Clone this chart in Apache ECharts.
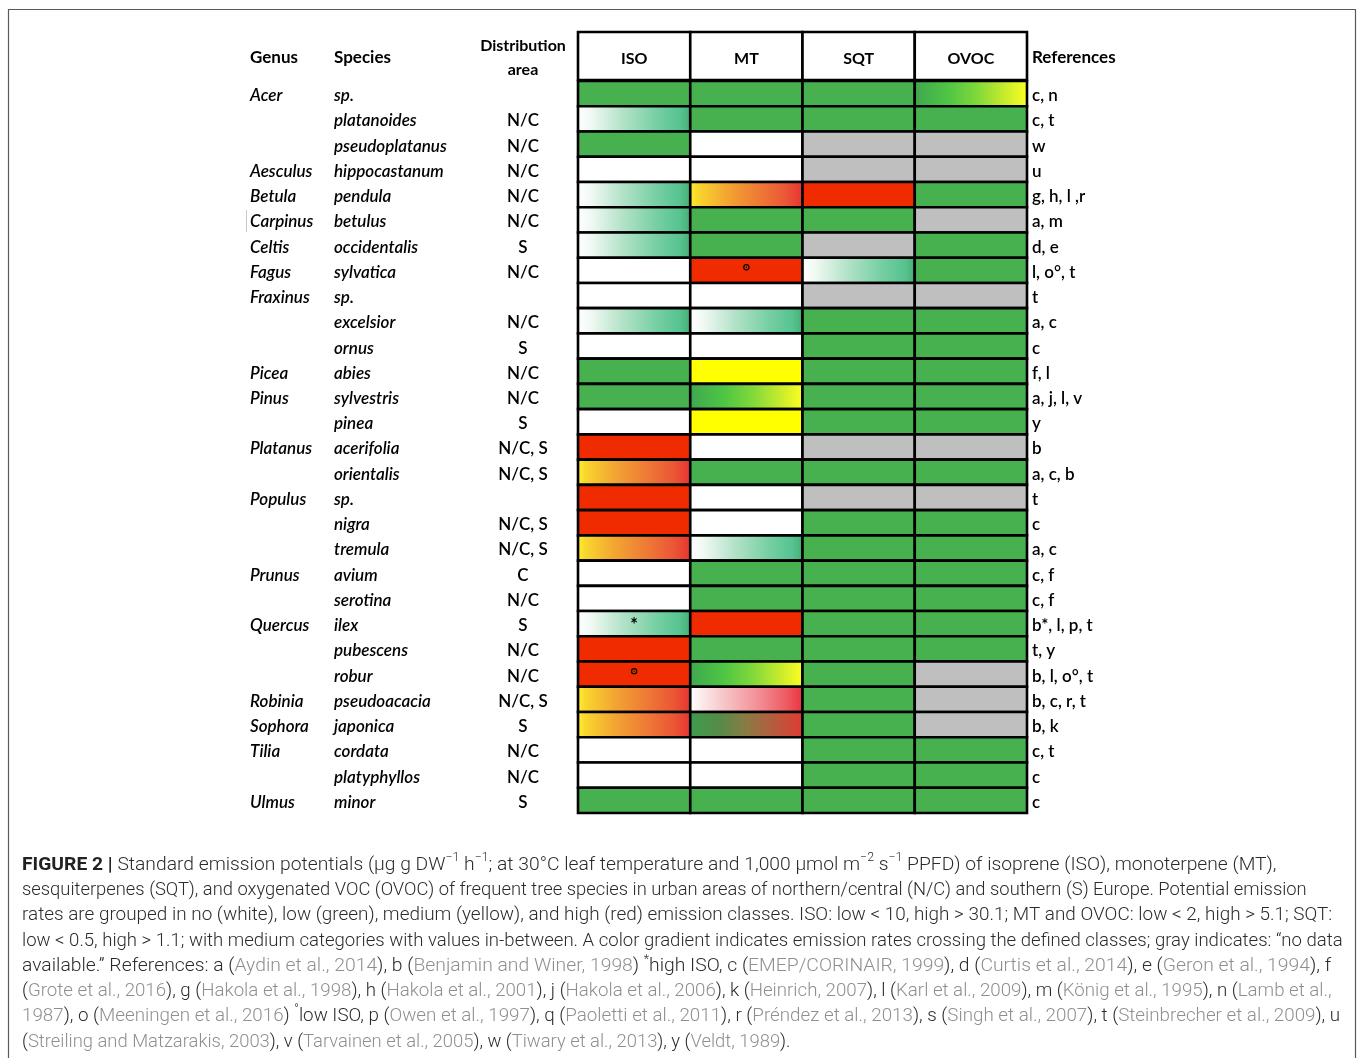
<!DOCTYPE html>
<html><head><meta charset="utf-8">
<script src="https://cdn.jsdelivr.net/npm/echarts@6/dist/echarts.min.js"></script>
<style>html,body{margin:0;padding:0;background:#fff}#c{width:1357px;height:1058px}</style>
</head><body><div id="c"></div><script>
const columns = ['ISO', 'MT', 'SQT', 'OVOC'];
const genus = ['Acer','','','Aesculus','Betula','Carpinus','Celtis','Fagus','Fraxinus','','','Picea','Pinus','','Platanus','','Populus','','','Prunus','','Quercus','','','Robinia','Sophora','Tilia','','Ulmus'];
const species = ['sp.','platanoides','pseudoplatanus','hippocastanum','pendula','betulus','occidentalis','sylvatica','sp.','excelsior','ornus','abies','sylvestris','pinea','acerifolia','orientalis','sp.','nigra','tremula','avium','serotina','ilex','pubescens','robur','pseudoacacia','japonica','cordata','platyphyllos','minor'];
const distribution = ['','N/C','N/C','N/C','N/C','N/C','S','N/C','','N/C','S','N/C','N/C','S','N/C, S','N/C, S','','N/C, S','N/C, S','C','N/C','S','N/C','N/C','N/C, S','S','N/C','N/C','S'];
const references = ['c, n','c, t','w','u','g, h, l ,r','a, m','d, e','l, o°, t','t','a, c','c','f, l','a, j, l, v','y','b','a, c, b','t','c','a, c','c, f','c, f','b*, l, p, t','t, y','b, l, o°, t','b, c, r, t','b, k','c, t','c','c'];
// emission class codes: W none, G low, Y medium, R high, X no data; two letters = gradient; ° / * = footnote marks
const iso  = ['G','WG','G','W','WG','WG','WG','W','W','WG','W','G','G','W','R','YR','R','R','YR','W','W','WG*','R','R°','YR','YR','W','W','G'];
const mt   = ['G','G','W','W','YR','G','G','R°','W','WG','W','Y','GY','Y','W','G','W','W','WG','G','G','R','G','GY','WR','GR','W','W','G'];
const sqt  = ['G','G','X','X','R','G','X','WG','X','G','G','G','G','G','X','G','X','G','G','G','G','G','G','G','G','G','G','G','G'];
const ovoc = ['GY','G','X','X','G','X','G','G','X','G','G','G','G','G','X','G','X','G','G','G','G','G','G','X','X','X','G','G','G'];
const headerLabels = { genus: 'Genus', species: 'Species', dist1: 'Distribution', dist2: 'area', refs: 'References' };

const solid = { W: '#ffffff', G: '#47b04f', Y: '#ffff00', R: '#f02b00', X: '#bfbfbf' };
const gradStops = {
  WG: [[0,'#ffffff'],[0.12,'#f1f9f4'],[0.4,'#b3e2c8'],[0.7,'#76cfa3'],[0.9,'#56c391'],[0.96,'#4db67c'],[1,'#42a560']],
  GY: [[0,'#40a64f'],[0.3,'#4ec545'],[0.55,'#7fd83a'],[0.8,'#c8ec2c'],[1,'#ffff22']],
  YR: [[0,'#fff22a'],[0.08,'#f9d52e'],[0.35,'#f2a232'],[0.6,'#ef7b36'],[0.85,'#eb5535'],[1,'#e63232']],
  WR: [[0,'#ffffff'],[0.3,'#f7c6c9'],[0.6,'#f29097'],[0.85,'#ee5a62'],[1,'#e8323e']],
  GR: [[0,'#3e9c4e'],[0.25,'#538c48'],[0.5,'#8a7a45'],[0.75,'#b85a3c'],[1,'#e23a32']]
};
function fillFor(code) {
  if (gradStops[code]) {
    return new echarts.graphic.LinearGradient(0, 0, 1, 0, gradStops[code].map(s => ({ offset: s[0], color: s[1] })));
  }
  return solid[code];
}

const cellCodes = [iso, mt, sqt, ovoc];
const cellData = [];
cellCodes.forEach((arr, c) => arr.forEach((code, r) => cellData.push([c, r])));
const cellCode = (i) => { const d = cellData[i]; return cellCodes[d[0]][d[1]]; };
const rowIdx = species.map((_, i) => String(i));

const dataFont = 'Lato, "Open Sans", sans-serif';
const capFont = 'Roboto, "Liberation Sans", sans-serif';
const capSize = 18.7;

const chart = echarts.init(document.getElementById('c'));

function renderCell(params, api) {
  const c = api.value(0), r = api.value(1);
  const p = api.coord([c, r]);
  const s = api.size([1, 1]);
  let code = cellCode(params.dataIndex);
  let mark = '';
  const last = code.slice(-1);
  if (last === '°' || last === '*') { mark = last; code = code.slice(0, -1); }
  const children = [{
    type: 'rect',
    shape: { x: p[0] - s[0] / 2, y: p[1] - s[1] / 2, width: s[0], height: s[1] },
    style: { fill: fillFor(code), stroke: '#000', lineWidth: 2.6 }
  }];
  if (mark === '°') {
    children.push({ type: 'circle', shape: { cx: p[0], cy: p[1] - 3, r: 2.6 }, style: { fill: 'none', stroke: '#000', lineWidth: 1.2 } });
    children.push({ type: 'circle', shape: { cx: p[0], cy: p[1] - 3, r: 0.7 }, style: { fill: '#000' } });
  } else if (mark === '*') {
    children.push({ type: 'text', style: { text: '*', x: p[0], y: p[1] + 1, align: 'center', verticalAlign: 'middle', font: 'bold 18px ' + dataFont, fill: '#000' } });
  }
  return { type: 'group', children };
}

function renderHeader(params, api) {
  const c = api.value(0);
  const p = api.coord([c, 0]);
  const s = api.size([1, 1]);
  return {
    type: 'group', children: [
      { type: 'rect', shape: { x: p[0] - s[0] / 2, y: p[1] - s[1] / 2, width: s[0], height: s[1] }, style: { fill: '#fff', stroke: '#000', lineWidth: 2.6 } },
      { type: 'text', style: { text: columns[c], x: p[0], y: p[1] + 3, align: 'center', verticalAlign: 'middle', font: 'bold 16px ' + dataFont, fill: '#000' } }
    ]
  };
}

const nb = '\u00a0';
const hidden = { axisLine: { show: false }, axisTick: { show: false }, splitLine: { show: false } };

// caption
const G = (t) => '{r|' + t + '}';
const S = (t) => '{u|' + t + '}';
const captionLines = [
  '{b|FIGURE 2 |} Standard emission potentials (µg g DW' + S('−1') + ' h' + S('−1') + '; at 30°C leaf temperature and 1,000 µmol m' + S('−2') + ' s' + S('−1') + ' PPFD) of isoprene (ISO), monoterpene (MT),',
  'sesquiterpenes (SQT), and oxygenated VOC (OVOC) of frequent tree species in urban areas of northern/central (N/C) and southern (S) Europe. Potential emission',
  'rates are grouped in no (white), low (green), medium (yellow), and high (red) emission classes. ISO: low < 10, high > 30.1; MT and OVOC: low < 2, high > 5.1; SQT:',
  'low < 0.5, high > 1.1; with medium categories with values in-between. A color gradient indicates emission rates crossing the defined classes; gray indicates: “no data',
  'available.” References: a (' + G('Aydin et al., 2014') + '), b (' + G('Benjamin and Winer, 1998') + ') ' + S('*') + 'high ISO, c (' + G('EMEP/CORINAIR, 1999') + '), d (' + G('Curtis et al., 2014') + '), e (' + G('Geron et al., 1994') + '), f',
  '(' + G('Grote et al., 2016') + '), g (' + G('Hakola et al., 1998') + '), h (' + G('Hakola et al., 2001') + '), j (' + G('Hakola et al., 2006') + '), k (' + G('Heinrich, 2007') + '), l (' + G('Karl et al., 2009') + '), m (' + G('König et al., 1995') + '), n (' + G('Lamb et al.,'),
  G('1987') + '), o (' + G('Meeningen et al., 2016') + ') ' + S('°') + 'low ISO, p (' + G('Owen et al., 1997') + '), q (' + G('Paoletti et al., 2011') + '), r (' + G('Préndez et al., 2013') + '), s (' + G('Singh et al., 2007') + '), t (' + G('Steinbrecher et al., 2009') + '), u',
  '(' + G('Streiling and Matzarakis, 2003') + '), v (' + G('Tarvainen et al., 2005') + '), w (' + G('Tiwary et al., 2013') + '), y (' + G('Veldt, 1989') + ').'
];
// horizontal fit of each caption line to the reference line length
const captionScale = [1.031, 0.982, 1.012, 0.993, 1.034, 1.0, 1.005, 0.985];
const capLH = 25.29;
const capBase = { fontFamily: capFont, fontSize: capSize, fontWeight: 300, lineHeight: capLH, fill: '#2b2b2b' };
const captionRich = {
  b: Object.assign({}, capBase, { fontWeight: 'bold', fill: '#222' }),
  r: Object.assign({}, capBase, { fill: '#8f8f8f' }),
  u: { fontFamily: capFont, fontSize: 12, fontWeight: 300, lineHeight: 14, fill: '#2b2b2b', verticalAlign: 'top' }
};
const captionGraphics = captionLines.map((t, i) => ({
  type: 'text', x: 22, y: 865 - capLH / 2 + i * capLH, scaleX: captionScale[i], silent: true,
  style: { text: t, fontFamily: capFont, fontSize: capSize, fontWeight: 300, lineHeight: capLH, fill: '#2b2b2b', verticalAlign: 'top', rich: captionRich }
}));

const option = {
  animation: false,
  backgroundColor: '#fff',
  grid: [
    { left: 578, top: 81, width: 449, height: 732 },
    { left: 578, top: 32, width: 449, height: 48 }
  ],
  xAxis: [
    Object.assign({ gridIndex: 0, type: 'category', data: columns, axisLabel: { show: false } }, hidden),
    Object.assign({ gridIndex: 1, type: 'category', data: columns, axisLabel: { show: false } }, hidden)
  ],
  yAxis: [
    Object.assign({
      gridIndex: 0, type: 'category', data: rowIdx, inverse: true, position: 'left',
      axisLabel: {
        interval: 0, margin: 22, align: 'right', padding: [4, 0, 0, 0],
        formatter: (v, i) => '{g|' + (genus[i] || nb) + '}{s|' + (species[i] || nb) + '}{d|' + (distribution[i] || nb) + '}',
        rich: {
          g: { width: 84, align: 'left', fontFamily: dataFont, fontStyle: 'italic', fontWeight: 600, fontSize: 17, color: '#000' },
          s: { width: 156, align: 'left', fontFamily: dataFont, fontStyle: 'italic', fontWeight: 600, fontSize: 17, color: '#000' },
          d: { width: 66, align: 'center', fontFamily: dataFont, fontWeight: 600, fontSize: 17, color: '#000' }
        }
      }
    }, hidden),
    Object.assign({
      gridIndex: 0, type: 'category', data: rowIdx, inverse: true, position: 'right',
      axisLabel: {
        interval: 0, margin: 5, align: 'left', padding: [4, 0, 0, 0],
        formatter: (v, i) => '{a|' + references[i] + '}',
        rich: { a: { fontFamily: dataFont, fontWeight: 600, fontSize: 17, color: '#000' } }
      }
    }, hidden),
    Object.assign({ gridIndex: 1, type: 'category', data: ['header'], axisLabel: { show: false } }, hidden)
  ],
  series: [
    { type: 'custom', xAxisIndex: 0, yAxisIndex: 0, data: cellData, renderItem: renderCell, silent: true },
    { type: 'custom', xAxisIndex: 1, yAxisIndex: 2, data: columns.map((c, i) => [i, 0]), renderItem: renderHeader, silent: true }
  ],
  graphic: [
    { type: 'rect', silent: true, shape: { x: 8.5, y: 9.5, width: 1347, height: 1070 }, style: { fill: 'none', stroke: '#5a5a5a', lineWidth: 1.2 } },
    { type: 'line', silent: true, shape: { x1: 246.5, y1: 210, x2: 246.5, y2: 232 }, style: { stroke: '#c8c8c8', lineWidth: 1 } },
    { type: 'text', left: 250, top: 49, style: { text: headerLabels.genus, font: 'bold 17px ' + dataFont, fill: '#000' } },
    { type: 'text', left: 334, top: 49, style: { text: headerLabels.species, font: 'bold 17px ' + dataFont, fill: '#000' } },
    { type: 'text', x: 523, y: 46, style: { text: headerLabels.dist1, align: 'center', verticalAlign: 'middle', font: 'bold 16px ' + dataFont, fill: '#000' } },
    { type: 'text', x: 523, y: 70, style: { text: headerLabels.dist2, align: 'center', verticalAlign: 'middle', font: 'bold 16px ' + dataFont, fill: '#000' } },
    { type: 'text', left: 1032, top: 49, style: { text: headerLabels.refs, font: 'bold 17px ' + dataFont, fill: '#000' } }
  ].concat(captionGraphics)
};
chart.setOption(option);
</script></body></html>
